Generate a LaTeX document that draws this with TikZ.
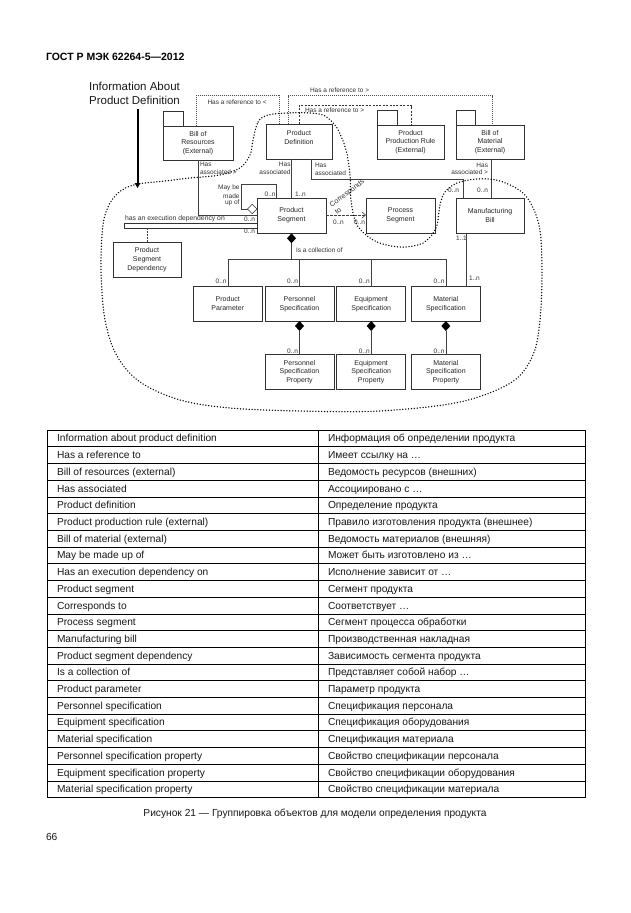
\documentclass[tikz,border=0pt]{standalone}
\usepackage{fontspec}
\setmainfont{Liberation Sans}
\usetikzlibrary{arrows.meta,shapes.geometric}
\begin{document}
\begin{tikzpicture}[x=1pt,y=-1pt,
  every node/.style={inner sep=0pt, outer sep=0pt},
  box/.style={draw=black!80, line width=0.7pt, fill=white, align=center,
    font=\fontsize{7}{8.8}\selectfont, text=black!85},
  tabbox/.style={draw=black!80, line width=0.7pt, fill=white, anchor=south west,
    minimum width=20pt, minimum height=15pt},
  lbl/.style={font=\fontsize{6.5}{7.5}\selectfont, text=black!80},
  conn/.style={draw=black!75, line width=0.6pt},
  refdot/.style={draw=black!70, line width=0.6pt, dash pattern=on 0.9pt off 1.1pt},
  refdash/.style={draw=black!80, line width=0.6pt, dash pattern=on 2pt off 1.4pt},
  bigdots/.style={draw=black, line width=1.5pt, dash pattern=on 0pt off 2.9pt, line cap=round},
  hdia/.style={diamond, draw=black!80, line width=0.6pt, fill=white, minimum width=9.5pt, minimum height=9.5pt},
  fdia/.style={diamond, fill=black, minimum width=9pt, minimum height=10pt},
  cellt/.style={font=\fontsize{10.2}{12}\selectfont, anchor=base west, text=black!90},
]
\useasboundingbox (0,0) rectangle (630,913);
\fill[white] (0,0) rectangle (630,913);

% header
\node[font=\bfseries\fontsize{10.5}{12}\selectfont, anchor=west] (hdr) at (46,57) {ГОСТ Р МЭК 62264-5—2012};

% title and arrow
\node[font=\fontsize{11.5}{13.5}\selectfont, align=center, text=black!90] (info) at (134.5,93.5) {Information About\\Product Definition};
\coordinate (tip) at (137.5,188);
\path (info.south -| tip) ++(0,5) coordinate (astart);
\draw[line width=2pt, -{Triangle[length=5pt,width=5.5pt]}] (astart) -- (tip);

% boxes
\node[box, minimum width=70pt, minimum height=34pt] (bor) at (198,143) {Bill of\\Resources\\(External)};
\node[tabbox] (bortab) at (bor.north west) {};
\node[box, minimum width=66pt, minimum height=35pt] (pd) at (299,141.5) {Product\\Definition\\\mbox{}};
\node[box, minimum width=67pt, minimum height=34pt] (ppr) at (410.5,142) {Product\\Production Rule\\(External)};
\node[tabbox] (pprtab) at (ppr.north west) {};
\node[box, minimum width=68pt, minimum height=34pt] (bom) at (490,142) {Bill of\\Material\\(External)};
\node[tabbox, minimum width=19pt] (bomtab) at (bom.north west) {};

\node[box, minimum width=69pt, minimum height=35pt] (ps) at (291.5,215.5) {Product\\Segment};
\node[box, minimum width=69pt, minimum height=35pt] (procs) at (400.5,215.5) {Process\\Segment};
\node[box, minimum width=68pt, minimum height=35pt] (mb) at (490,215.5) {Manufacturing\\Bill};
\node[box, minimum width=68pt, minimum height=35pt] (psd) at (147,259.5) {Product\\Segment\\Dependency};

\node[box, minimum width=69pt, minimum height=34.4pt] (pp) at (227.8,303.8) {Product\\Parameter};
\node[box, minimum width=69pt, minimum height=34.4pt] (pers) at (299.5,303.8) {Personnel\\Specification};
\node[box, minimum width=69pt, minimum height=34.4pt] (eqs) at (371.2,303.8) {Equipment\\Specification};
\node[box, minimum width=68.3pt, minimum height=34.4pt] (ms) at (445.85,303.8) {Material\\Specification};

\node[box, minimum width=69pt, minimum height=34.4pt] (persp) at (299.5,372) {Personnel\\Specification\\Property};
\node[box, minimum width=69pt, minimum height=34.4pt] (eqsp) at (371.2,372) {Equipment\\Specification\\Property};
\node[box, minimum width=68.3pt, minimum height=34.4pt] (msp) at (445.85,372) {Material\\Specification\\Property};

% execution dependency bar
\node[draw=black!80, line width=0.6pt, minimum width=133pt, minimum height=5pt, anchor=north west] (bar) at (124,223) {};
\draw[conn, dash pattern=on 1.5pt off 1.5pt] (bar.south -| psd.north) -- (psd.north);

% reference lines
\coordinate (cA) at (196.5,95);
\coordinate (cB) at (279.3,95);
\draw[refdot] (bor.north -| cA) -- (cA) -- (cB) -- (pd.north -| cB);
\coordinate (cC) at (288.3,95.5);
\coordinate (cD) at (492,95.5);
\draw[refdot] (pd.north -| cC) -- (cC) -- (cD) -- (bom.north -| cD);
\coordinate (cE) at (299,105.7);
\coordinate (cF) at (411.7,105.7);
\draw[refdash] (pd.north) -- (cE) -- (cF) -- (ppr.north -| cF);
\node[lbl, anchor=west] (lref1) at (207.5,102) {Has a reference to <};
\node[lbl, anchor=west] (lref2) at (310,90.5) {Has a reference to >};
\node[lbl, anchor=west] (lref3) at (305,109.8) {Has a reference to >};

% associations
\coordinate (cG) at (0,215);
\draw[conn] (bor.south) |- (ps.west |- cG);
\draw[conn] (pd.south -| ps.north) -- (ps.north);
\coordinate (cH) at (311.7,179);
\coordinate (cI) at (463,179);
\draw[conn] (pd.south -| cH) -- (cH) -- (cI) -- (mb.north -| cI);
\coordinate (cJ) at (491,0);
\draw[conn] (bom.south -| cJ) -- (mb.north -| cJ);

% self association
\node[hdia] (hd) at (252.3,209) {};
\coordinate (cK) at (276.7,184);
\coordinate (cL) at (241.7,184);
\coordinate (cM) at (241.7,209);
\draw[conn] (ps.north -| cK) -- (cK) -- (cL) -- (cM) -- (hd.west);

% corresponds to
\coordinate (cN) at (0,215);
\draw[conn, dash pattern=on 2.5pt off 1.5pt, -{Straight Barb[length=3.5pt,width=6pt]}] (ps.east |- cN) -- (procs.west |- cN);

% collection
\node[fdia] (fd) at (291.5,238.3) {};
\coordinate (cBus) at (0,259.3);
\draw[conn] (fd.south) -- (fd.south |- cBus);
\draw[conn] (pp.north |- cBus) -- (ms.north |- cBus);
\foreach \n in {pp,pers,eqs,ms} \draw[conn] (\n.north |- cBus) -- (\n.north);
\coordinate (cO) at (466.5,0);
\draw[conn] (mb.south -| cO) -- (ms.north -| cO);

\node[fdia] (fd2) at (299.5,326) {};
\node[fdia] (fd3) at (371.2,326) {};
\node[fdia] (fd4) at (445.85,326) {};
\draw[conn] (fd2.south) -- (persp.north);
\draw[conn] (fd3.south) -- (eqsp.north);
\draw[conn] (fd4.south) -- (msp.north);

% labels
\node[lbl, anchor=west] (a1) at (200,164) {Has};
\node[lbl, anchor=west] (a2) at (200,172) {associated >};
\node[lbl, anchor=east] (a3) at (290.5,164) {Has};
\node[lbl, anchor=east] (a4) at (290.5,172) {associated};
\node[lbl, anchor=west] (a5) at (315,165) {Has};
\node[lbl, anchor=west] (a6) at (315,173) {associated};
\node[lbl, anchor=east] (a7) at (488,165) {Has};
\node[lbl, anchor=east] (a8) at (488,172) {associated >};
\node[lbl, anchor=east] (m1) at (239.5,188.3) {May be};
\node[lbl, anchor=east] (m2) at (239.5,196) {made};
\node[lbl, anchor=east] (m3) at (239.5,203.3) {up of};
\node[lbl, anchor=east] (n1) at (275.5,194) {0..n};
\node[lbl, anchor=west] (n2) at (295,194) {1..n};
\node[lbl, anchor=east] (n3) at (459,190) {0..n};
\node[lbl, anchor=east] (n4) at (488,190) {0..n};
\node[lbl, anchor=west, font=\fontsize{6.8}{8}\selectfont] (ex) at (125,218.7) {has an execution dependency on};
\node[lbl, anchor=east] (n5) at (255,219.3) {0..n};
\node[lbl, anchor=east] (n6) at (255,231.7) {0..n};
\node[lbl, anchor=west] (n7) at (333,222.7) {0..n};
\node[lbl, anchor=east] (n8) at (365,222.7) {0..n};
\node[lbl, font=\fontsize{7.2}{8.6}\selectfont, align=left, anchor=north west, rotate=37] (cor) at (328.8,203.3) {Corresponds\\to};
\node[lbl, anchor=west] (col) at (296,249.7) {Is a collection of};
\node[lbl, anchor=east] (n9) at (226.5,281.7) {0..n};
\node[lbl, anchor=east] (n10) at (298,281.7) {0..n};
\node[lbl, anchor=east] (n11) at (369.7,281.7) {0..n};
\node[lbl, anchor=east] (n12) at (444.5,281.7) {0..n};
\node[lbl, anchor=west] (n13) at (456,238) {1..1};
\node[lbl, anchor=west] (n14) at (469,278.5) {1..n};
\node[lbl, anchor=east] (n15) at (298,351) {0..n};
\node[lbl, anchor=east] (n16) at (369.7,351) {0..n};
\node[lbl, anchor=east] (n17) at (444.5,351) {0..n};

% big dotted boundary
\draw[bigdots] plot[smooth cycle, tension=0.55] coordinates {
 (253,140) (258,122) (268,115) (287,113) (310,113) (325,116) (337,128) (346,150)
 (350,175) (351,200) (357,225) (375,241) (400,247) (423,243) (436,228) (440,205)
 (445,192) (457,183) (477,179) (500,181) (525,195) (539,225) (542,270) (540,320)
 (533,355) (512,382) (460,402) (380,411) (300,411) (230,408) (180,400) (140,382)
 (117,356) (105,320) (101,270) (103,225) (110,203) (122,190) (138,184) (165,181)
 (190,178) (220,175) (240,168) (250,155)};

% table
\draw[line width=0.9pt] (47,430) rectangle (585,797.5);
\foreach \i in {1,...,21} \draw[line width=0.5pt] (47,{430+\i*16.705}) -- (585,{430+\i*16.705});
\draw[line width=0.7pt] (318,430) -- (318,797.5);
\foreach \a/\b [count=\i] in {
 Information about product definition/Информация об определении продукта,
 Has a reference to/Имеет ссылку на …,
 Bill of resources (external)/Ведомость ресурсов (внешних),
 Has associated/Ассоциировано с …,
 Product definition/Определение продукта,
 Product production rule (external)/Правило изготовления продукта (внешнее),
 Bill of material (external)/Ведомость материалов (внешняя),
 May be made up of/Может быть изготовлено из …,
 Has an execution dependency on/Исполнение зависит от …,
 Product segment/Сегмент продукта,
 Corresponds to/Соответствует …,
 Process segment/Сегмент процесса обработки,
 Manufacturing bill/Производственная накладная,
 Product segment dependency/Зависимость сегмента продукта,
 Is a collection of/Представляет собой набор …,
 Product parameter/Параметр продукта,
 Personnel specification/Спецификация персонала,
 Equipment specification/Спецификация оборудования,
 Material specification/Спецификация материала,
 Personnel specification property/Свойство спецификации персонала,
 Equipment specification property/Свойство спецификации оборудования,
 Material specification property/Свойство спецификации материала}{
 \node[cellt] (ta\i) at (57,{430+(\i-0.5)*16.705+3.6}) {\a};
 \node[cellt] (tb\i) at (328,{430+(\i-0.5)*16.705+3.6}) {\b};
}

\node[font=\fontsize{10.2}{12}\selectfont, text=black!90] (cap) at (315,814) {Рисунок 21 — Группировка объектов для модели определения продукта};
\node[font=\fontsize{10.2}{12}\selectfont, anchor=west, text=black!90] (pg) at (46,837) {66};
\end{tikzpicture}
\end{document}
